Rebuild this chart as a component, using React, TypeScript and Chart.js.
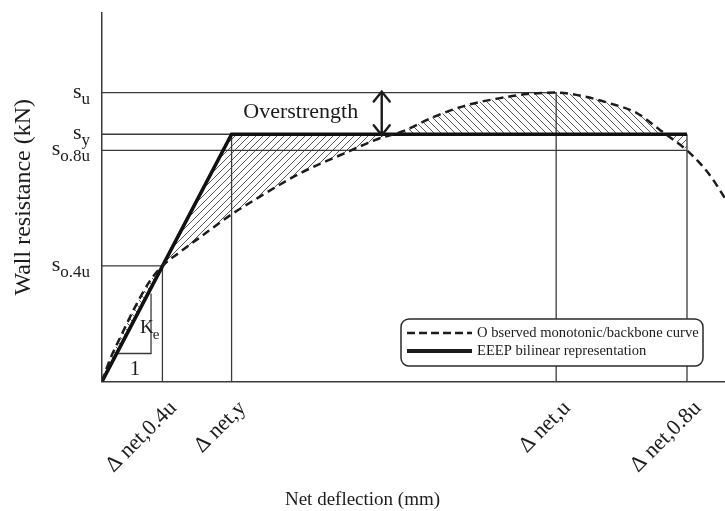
import React, { useEffect, useRef } from 'react';
import { Chart, registerables } from 'chart.js';

Chart.register(...registerables);

const FONT = "'Liberation Serif', 'Times New Roman', serif";
const INK = '#1c1c1c';
const GUIDE = '#3a3a3a';
const HATCH = '#5a5a5a';

// Key levels (schematic units)
const S_04U = 31.4;
const S_08U = 62.7;
const S_Y = 67.1;
const S_U = 78.4;
const D_04U = 9.7;
const D_Y = 20.8;
const D_U = 72.9;
const D_08U = 93.9;

// Tick values / labels
const yTickValues = [S_04U, S_08U, S_Y, S_U];
const yTickMain = ['s', 's', 's', 's'];
const yTickSub = ['o.4u', 'o.8u', 'y', 'u'];
const xTickValues = [D_04U, D_Y, D_U, D_08U];
const xTickLabels = ['\u0394 net,0.4u', '\u0394 net,y', '\u0394 net,u', '\u0394 net,0.8u'];

// Observed monotonic / backbone curve
const observedX = [0, 1.28, 2.89, 5.3, 7.7, 9.7, 12.5, 15.7, 21.0, 24.9, 31.8, 38.2, 44.6, 48.3, 53.1, 58.6, 63.9, 68.2, 72.9, 77.2, 81.5, 85.9, 89.6, 93.9, 96.0, 97.9, 100];
const observedY = [0, 6.0, 11.8, 20.2, 27.3, 31.4, 35.1, 39.1, 45.6, 49.7, 56.5, 61.4, 66.0, 67.9, 71.7, 75.0, 76.9, 78.0, 78.4, 77.4, 75.5, 72.8, 68.2, 62.7, 59.2, 55.2, 49.7];

// EEEP bilinear representation
const eeepX = [0, D_Y, D_08U];
const eeepY = [0, S_Y, S_Y];

const seriesLabels = ['O bserved monotonic/backbone curve', 'EEEP bilinear representation'];

// Stiffness triangle (K_e over 1)
const slopeBaseY = 7.6;
const slopeX = 7.87;
const slopeTopY = 23.9;

// Annotation anchors (data units)
const overText = 'Overstrength';
const overTextX = 31.9;
const overTextY = 73.1;
const arrowX = 44.9;
const keX = 6.1;
const keY = 13.2;
const oneX = 5.3;
const oneY = 1.8;

const AXIS_TITLE_X = 'Net deflection (mm)';
const AXIS_TITLE_Y = 'Wall resistance (kN)';

function pts(xs: number[], ys: number[]) {
  return xs.map((x, i) => ({ x, y: ys[i] }));
}

function makeHatch(dir: 'fwd' | 'back'): CanvasPattern | string {
  const s = 7;
  const c = document.createElement('canvas');
  c.width = s;
  c.height = s;
  const g = c.getContext('2d');
  if (!g) return HATCH;
  g.strokeStyle = HATCH;
  g.lineWidth = 1;
  g.beginPath();
  if (dir === 'fwd') {
    g.moveTo(0, s); g.lineTo(s, 0);
    g.moveTo(-1, 1); g.lineTo(1, -1);
    g.moveTo(s - 1, s + 1); g.lineTo(s + 1, s - 1);
  } else {
    g.moveTo(0, 0); g.lineTo(s, s);
    g.moveTo(-1, s - 1); g.lineTo(1, s + 1);
    g.moveTo(s - 1, -1); g.lineTo(s + 1, 1);
  }
  g.stroke();
  return g.createPattern(c, 'repeat') || HATCH;
}

function guide(data: { x: number; y: number }[]) {
  return {
    data,
    borderColor: GUIDE,
    borderWidth: 1.3,
    pointRadius: 0,
    fill: false,
    tension: 0,
  };
}

const yLabelPlugin = {
  id: 'yLabels',
  afterDraw(chart: any) {
    const ctx = chart.ctx;
    const ys = chart.scales.y;
    ctx.save();
    ctx.fillStyle = INK;
    ctx.textBaseline = 'alphabetic';
    yTickValues.forEach((v, i) => {
      const py = ys.getPixelForValue(v);
      const right = ys.right - 12;
      ctx.font = `17px ${FONT}`;
      const sw = ctx.measureText(yTickSub[i]).width;
      ctx.textAlign = 'left';
      ctx.fillText(yTickSub[i], right - sw, py + 11);
      ctx.font = `22px ${FONT}`;
      ctx.textAlign = 'right';
      ctx.fillText(yTickMain[i], right - sw, py + 5);
    });
    ctx.restore();
  },
};

const annotPlugin = {
  id: 'annots',
  afterDraw(chart: any) {
    const ctx = chart.ctx;
    const xs = chart.scales.x;
    const ys = chart.scales.y;
    ctx.save();
    ctx.fillStyle = INK;
    // Overstrength label
    ctx.font = `22px ${FONT}`;
    ctx.textAlign = 'center';
    ctx.textBaseline = 'middle';
    ctx.fillText(overText, xs.getPixelForValue(overTextX), ys.getPixelForValue(overTextY));
    // double-headed arrow
    const ax = xs.getPixelForValue(arrowX);
    const yTop = ys.getPixelForValue(S_U) - 1;
    const yBot = ys.getPixelForValue(S_Y) + 1;
    ctx.strokeStyle = INK;
    ctx.lineWidth = 2.4;
    ctx.lineCap = 'round';
    ctx.beginPath();
    ctx.moveTo(ax, yTop); ctx.lineTo(ax, yBot);
    ctx.moveTo(ax - 8, yTop + 10); ctx.lineTo(ax, yTop); ctx.lineTo(ax + 8, yTop + 10);
    ctx.moveTo(ax - 8, yBot - 10); ctx.lineTo(ax, yBot); ctx.lineTo(ax + 8, yBot - 10);
    ctx.stroke();
    // K_e
    ctx.textAlign = 'left';
    ctx.textBaseline = 'alphabetic';
    ctx.font = `19px ${FONT}`;
    const kx = xs.getPixelForValue(keX);
    const ky = ys.getPixelForValue(keY);
    ctx.fillText('K', kx, ky);
    const kw = ctx.measureText('K').width;
    ctx.font = `15px ${FONT}`;
    ctx.fillText('e', kx + kw - 1, ky + 6);
    // 1
    ctx.font = `21px ${FONT}`;
    ctx.textAlign = 'center';
    ctx.fillText('1', xs.getPixelForValue(oneX), ys.getPixelForValue(oneY));
    ctx.restore();
  },
};

const boxLegendPlugin = {
  id: 'boxLegend',
  afterDraw(chart: any) {
    const ctx = chart.ctx;
    const area = chart.chartArea;
    const w = 302;
    const h = 47;
    const x = area.right - 22 - w;
    const y = area.bottom - 15.5 - h;
    ctx.save();
    ctx.fillStyle = '#ffffff';
    ctx.strokeStyle = '#2a2a2a';
    ctx.lineWidth = 1.5;
    ctx.beginPath();
    if ((ctx as any).roundRect) {
      (ctx as any).roundRect(x, y, w, h, 8);
    } else {
      ctx.rect(x, y, w, h);
    }
    ctx.fill();
    ctx.stroke();
    const rows = [y + 14, y + 32];
    // dashed sample
    ctx.strokeStyle = INK;
    ctx.lineWidth = 2.5;
    ctx.setLineDash([8, 4]);
    ctx.beginPath();
    ctx.moveTo(x + 6, rows[0]); ctx.lineTo(x + 71, rows[0]);
    ctx.stroke();
    ctx.setLineDash([]);
    ctx.lineWidth = 4;
    ctx.beginPath();
    ctx.moveTo(x + 6, rows[1]); ctx.lineTo(x + 71, rows[1]);
    ctx.stroke();
    ctx.fillStyle = INK;
    ctx.font = `14.6px ${FONT}`;
    ctx.textAlign = 'left';
    ctx.textBaseline = 'middle';
    chart.data.datasets.slice(0, 2).forEach((ds: any, i: number) => {
      ctx.fillText(ds.label, x + 76, rows[i]);
    });
    ctx.restore();
  },
};

export default function App() {
  const ref = useRef<HTMLCanvasElement | null>(null);

  useEffect(() => {
    if (!ref.current) return;
    const hatchAbove = makeHatch('back');
    const hatchBelow = makeHatch('fwd');

    const datasets: any[] = [
      {
        label: seriesLabels[0],
        data: pts(observedX, observedY),
        borderColor: INK,
        borderWidth: 2.5,
        borderDash: [8, 5],
        cubicInterpolationMode: 'monotone',
        pointRadius: 0,
        fill: { target: 1, above: hatchAbove, below: hatchBelow },
      },
      {
        label: seriesLabels[1],
        data: pts(eeepX, eeepY),
        borderColor: '#111111',
        borderWidth: 3.6,
        pointRadius: 0,
        tension: 0,
        fill: false,
      },
      guide([{ x: 0, y: S_U }, { x: D_U, y: S_U }, { x: D_U, y: 0 }]),
      guide([{ x: 0, y: S_Y }, { x: D_Y, y: S_Y }, { x: D_Y, y: 0 }]),
      guide([{ x: 0, y: S_08U }, { x: D_08U, y: S_08U }]),
      guide([{ x: D_08U, y: S_Y }, { x: D_08U, y: 0 }]),
      guide([{ x: 0, y: S_04U }, { x: D_04U, y: S_04U }, { x: D_04U, y: 0 }]),
      guide([
        { x: slopeBaseY * D_04U / S_04U, y: slopeBaseY },
        { x: slopeX, y: slopeBaseY },
        { x: slopeX, y: slopeTopY },
      ]),
    ];

    const chart = new Chart(ref.current, {
      type: 'line',
      data: { datasets },
      options: {
        animation: false,
        responsive: false,
        events: [],
        layout: { padding: { top: 13, left: 0, right: 0, bottom: 0 } },
        plugins: {
          legend: { display: false },
          tooltip: { enabled: false },
          filler: { drawTime: 'beforeDatasetsDraw' },
          title: {
            display: true,
            position: 'bottom',
            text: AXIS_TITLE_X,
            color: INK,
            font: { family: FONT, size: 19, weight: 'normal' },
            padding: { top: 0, bottom: 0 },
          },
        },
        scales: {
          x: {
            type: 'linear',
            min: 0,
            max: 100,
            afterBuildTicks: (scale: any) => {
              scale.ticks = xTickValues.map((v) => ({ value: v }));
            },
            afterFit: (scale: any) => {
              scale.height = 106.7;
            },
            grid: { display: false, drawTicks: false },
            border: { display: true, color: GUIDE, width: 1.5 },
            ticks: {
              autoSkip: false,
              minRotation: 45,
              maxRotation: 45,
              padding: 14,
              labelOffset: 11,
              color: INK,
              font: { family: FONT, size: 22 },
              callback: (_v: any, i: number) => xTickLabels[i],
            },
          },
          y: {
            type: 'linear',
            min: 0,
            max: 100,
            afterBuildTicks: (scale: any) => {
              scale.ticks = yTickValues.map((v) => ({ value: v }));
            },
            afterFit: (scale: any) => {
              scale.width = 102;
            },
            grid: { display: false, drawTicks: false },
            border: { display: true, color: GUIDE, width: 1.5 },
            ticks: { display: false },
            title: {
              display: true,
              text: AXIS_TITLE_Y,
              color: INK,
              font: { family: FONT, size: 24, weight: 'normal' },
              padding: { top: 9.5, bottom: 0 },
            },
          },
        },
      } as any,
      plugins: [yLabelPlugin, annotPlugin, boxLegendPlugin],
    });

    return () => chart.destroy();
  }, []);

  return (
    <div style={{ position: 'fixed', left: 0, top: 0, width: 725, height: 511, background: '#ffffff' }}>
      <canvas ref={ref} width={725} height={511} style={{ display: 'block' }} />
    </div>
  );
}
